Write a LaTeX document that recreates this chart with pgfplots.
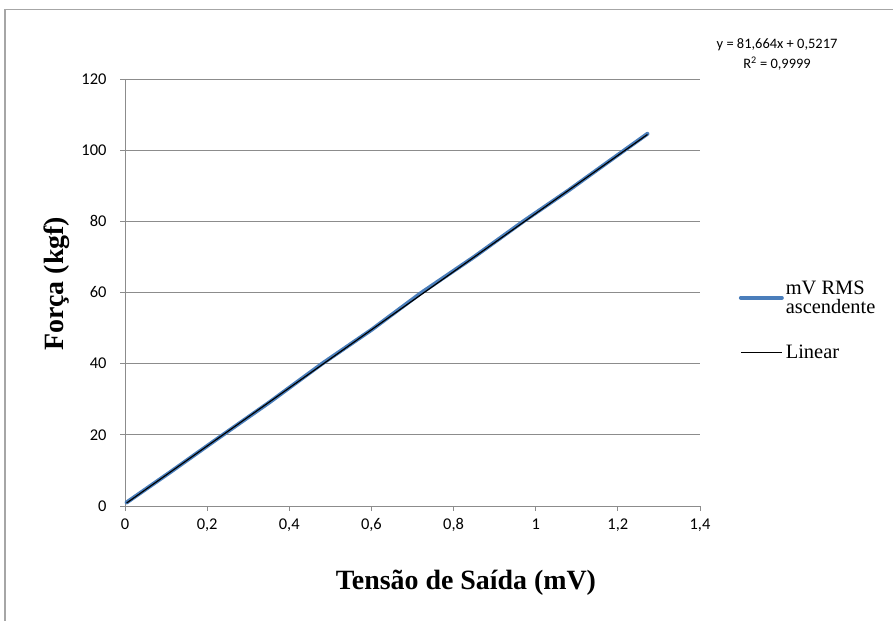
\documentclass[border=0pt]{standalone}
\usepackage{pgfplots}
\pgfplotsset{compat=1.18}
\usepackage{fontspec}
\setmainfont{Carlito}
\newfontfamily\serif{Liberation Serif}
\definecolor{exblue}{HTML}{4A7EBB}
\definecolor{exgray}{HTML}{8C8C8C}
\begin{document}
\begin{tikzpicture}
\path[use as bounding box] (0bp,0bp) rectangle (893bp,621bp);
\draw[color=black!35, line width=1.2bp] (5bp,0bp) -- (5bp,611.5bp) -- (893bp,611.5bp);
\begin{axis}[
  at={(125bp,115bp)}, anchor=south west,
  scale only axis, width=575bp, height=427bp,
  xmin=0, xmax=1.4, ymin=0, ymax=120,
  xtick={0,0.2,...,1.4}, ytick={0,20,...,120},
  axis lines*=left,
  axis line style={exgray, line width=0.8bp, -},
  tick style={exgray, line width=0.8bp},
  tick align=outside, major tick length=5bp,
  ymajorgrids, grid style={exgray, line width=0.8bp},
  /pgf/number format/use comma,
  /pgf/number format/assume math mode=true,
  ticklabel style={font=\fontsize{16.5}{18}\selectfont, text=black},
  xticklabel style={yshift=-4bp},
  yticklabel style={xshift=-10bp},
  xlabel={Tensão de Saída (mV)},
  ylabel={Força (kgf)},
  xlabel style={font=\serif\bfseries\fontsize{28}{30}\selectfont, at={(axis description cs:0.593,-0.18)}, anchor=center},
  ylabel style={font=\serif\bfseries\fontsize{28}{30}\selectfont, at={(axis description cs:-0.118,0.52)}, anchor=center},
  clip=false,
  legend style={draw=none, fill=none, at={(rel axis cs:1.062,0.537)}, anchor=north west,
    font=\serif\fontsize{20.5}{19}\selectfont, nodes={align=left}, row sep=26bp},
  legend image code/.code={\draw[#1] (0bp,0bp) -- (32bp,0bp); \path (32bp,0bp) -- (41bp,0bp);},
  legend cell align=left,
]
\addplot[exblue, line width=4bp, line cap=round] coordinates {
(0.004,1.0) (0.11,9.5) (0.22,18.5) (0.35,29.0) (0.48,40.0) (0.60,49.5)
(0.72,59.8) (0.85,70.0) (0.97,80.0) (1.08,88.7) (1.18,97.0) (1.272,104.6)};
\addlegendentry{mV RMS\\ascendente}
\addplot[black, line width=1.2bp] coordinates {(0.004,0.848) (1.272,104.4)};
\addlegendentry{Linear}
\node[align=center, font=\fontsize{14.5}{20}\selectfont, text=black] at (rel axis cs:1.134,1.057)
  {y = 81,664x + 0,5217\\R\textsuperscript{2} = 0,9999};
\end{axis}
\end{tikzpicture}
\end{document}
